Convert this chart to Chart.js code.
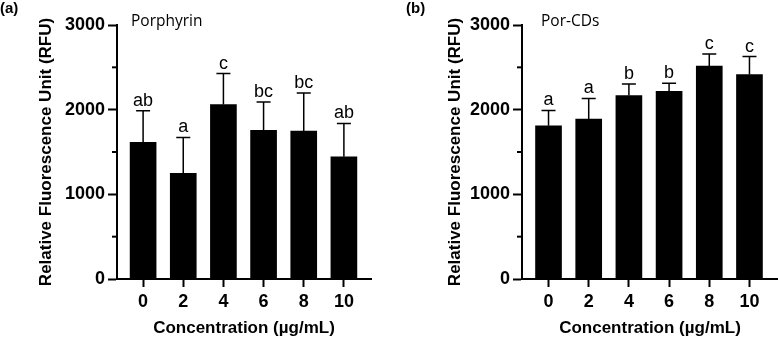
<!DOCTYPE html>
<html>
<head>
<meta charset="utf-8">
<script src="https://cdn.jsdelivr.net/npm/chart.js@4/dist/chart.umd.min.js"></script>
<style>
  body { margin: 0; background: #fff; width: 778px; height: 339px; overflow: hidden; position: relative; font-family: "Liberation Sans", Arial, sans-serif; }
  .panel { position: absolute; top: 0; width: 389px; height: 339px; }
  .tag { position: absolute; top: 0; font-weight: bold; font-size: 15px; line-height: 16px; }
  .name { position: absolute; top: 10px; font-family: "Open Sans", sans-serif; font-size: 15.5px; line-height: 20px; }
</style>
</head>
<body>
<div class="panel" style="left:0">
  <canvas id="chartA" width="389" height="339"></canvas>
</div>
<div class="panel" style="left:389px">
  <canvas id="chartB" width="389" height="339"></canvas>
</div>
<div class="tag" style="left:0">(a)</div>
<div class="tag" style="left:406px">(b)</div>
<div class="name" style="left:131px">Porphyrin</div>
<div class="name" style="left:541px">Por-CDs</div>

<script>
// datos
const concentraciones = [0, 2, 4, 6, 8, 10];

const porfirinaMedia = [1614, 1249, 2061, 1755, 1747, 1444];
const porfirinaDE = [372, 423, 365, 337, 451, 393];
const porfirinaLetras = ['ab', 'a', 'c', 'bc', 'bc', 'ab'];

const porCDsMedia = [1809, 1888, 2167, 2218, 2516, 2415];
const porCDsDE = [182, 244, 137, 94, 141, 212];
const porCDsLetras = ['a', 'a', 'b', 'b', 'c', 'c'];

const yMax = 3000;
const yPaso = 500;

const tituloX = 'Concentration (µg/mL)';
const tituloY = 'Relative Fluorescence Unit (RFU)';

// barras de error (solo hacia arriba) + letras de significancia
const barrasError = {
    id: 'barrasError',
    afterDatasetsDraw(chart, args, opts) {
        const ctx = chart.ctx;
        const xs = chart.scales.x, ys = chart.scales.y;
        const datos = chart.data.datasets[0].data;
        ctx.save();
        ctx.strokeStyle = '#000';
        ctx.lineWidth = 1.5;
        ctx.fillStyle = '#000';
        ctx.font = '18px "Liberation Sans", Arial, sans-serif';
        ctx.textAlign = 'center';
        ctx.textBaseline = 'alphabetic';
        datos.forEach((p, i) => {
            const x = xs.getPixelForValue(p.x);
            const y0 = ys.getPixelForValue(p.y);
            const y1 = ys.getPixelForValue(p.y + opts.de[i]);
            ctx.beginPath();
            ctx.moveTo(x, y0);
            ctx.lineTo(x, y1);
            ctx.moveTo(x - 7, y1);
            ctx.lineTo(x + 7, y1);
            ctx.stroke();
            ctx.fillText(opts.letras[i], x, y1 - 5);
        });
        ctx.restore();
    },
    afterDraw(chart) {
        // ticks menores del eje Y (más cortos)
        const ctx = chart.ctx;
        const ys = chart.scales.y;
        const izq = chart.chartArea.left;
        ctx.save();
        ctx.strokeStyle = '#000';
        ctx.lineWidth = 2;
        ys.ticks.forEach(t => {
            if (t.value % 1000 !== 0) {
                const y = ys.getPixelForValue(t.value);
                ctx.beginPath();
                ctx.moveTo(izq - 5, y);
                ctx.lineTo(izq, y);
                ctx.stroke();
            }
        });
        ctx.restore();
    }
};

function crearGrafico(id, medias, de, letras, conf) {
    const ctx = document.getElementById(id).getContext('2d');
    return new Chart(ctx, {
        type: 'bar',
        data: {
            datasets: [{
                data: concentraciones.map((c, i) => ({ x: c, y: medias[i] })),
                backgroundColor: '#000',
                borderWidth: 0,
                barThickness: 26
            }]
        },
        options: {
            responsive: false,
            animation: false,
            layout: { padding: { top: 25, right: conf.derecha, left: 0, bottom: 0 } },
            plugins: {
                legend: { display: false },
                tooltip: { enabled: false },
                barrasError: { de: de, letras: letras }
            },
            scales: {
                x: {
                    type: 'linear',
                    offset: false,
                    min: conf.xMin,
                    max: conf.xMax,
                    afterFit(s) { s.height = 60; },
                    afterBuildTicks(s) { s.ticks = concentraciones.map(v => ({ value: v })); },
                    grid: { drawOnChartArea: false, offset: false, tickLength: 8, tickWidth: 2, tickColor: '#000' },
                    border: { display: true, color: '#000', width: 2 },
                    ticks: {
                        color: '#000',
                        font: { family: '"Liberation Sans", Arial', size: 18, weight: 'bold' },
                        padding: 4,
                        maxRotation: 0,
                        autoSkip: false
                    },
                    title: {
                        display: true,
                        text: tituloX,
                        color: '#000',
                        font: { family: '"Liberation Sans", Arial', size: 17, weight: 'bold' },
                        padding: { top: 0, bottom: 0 }
                    }
                },
                y: {
                    min: 0,
                    max: yMax,
                    afterFit(s) { s.width = conf.anchoY; },
                    grid: {
                        drawOnChartArea: false,
                        tickLength: 9,
                        tickWidth: 2,
                        tickColor: c => (c.tick && c.tick.value % 1000 === 0) ? '#000' : 'rgba(0,0,0,0)'
                    },
                    border: { display: true, color: '#000', width: 2 },
                    ticks: {
                        stepSize: yPaso,
                        color: '#000',
                        padding: 3,
                        font: { family: '"Liberation Sans", Arial', size: 18, weight: 'bold' },
                        callback: v => (v % 1000 === 0 ? v : '')
                    },
                    title: {
                        display: true,
                        text: tituloY,
                        color: '#000',
                        font: { family: '"Liberation Sans", Arial', size: 17, weight: 'bold' },
                        padding: { top: conf.tituloY, bottom: 0 }
                    }
                }
            }
        },
        plugins: [barrasError]
    });
}

crearGrafico('chartA', porfirinaMedia, porfirinaDE, porfirinaLetras,
    { anchoY: 117, derecha: 18, xMin: -1.3, xMax: 11.35, tituloY: 36 });
crearGrafico('chartB', porCDsMedia, porCDsDE, porCDsLetras,
    { anchoY: 133, derecha: 0, xMin: -1.32, xMax: 11.42, tituloY: 56 });
</script>
</body>
</html>
